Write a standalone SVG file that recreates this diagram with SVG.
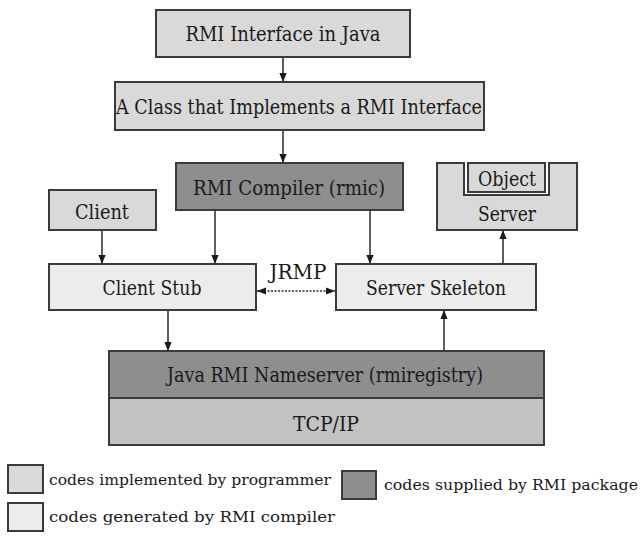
<svg xmlns="http://www.w3.org/2000/svg" width="641" height="540" viewBox="0 0 641 540">
  <style>
    .box { stroke: #3a3a3a; stroke-width: 2; }
    .impl { fill: #d9d9d9; }
    .gen { fill: #ececec; }
    .lib { fill: #8e8e8e; }
    .net { fill: #c2c2c2; }
    .lbl { font-family: 'DejaVu Serif Condensed', 'DejaVu Serif', serif; font-size: 21px; fill: #1a1a1a; text-anchor: middle; }
    .leg { font-family: 'DejaVu Serif', serif; font-size: 15px; fill: #1a1a1a; }
    .wire { stroke: #2a2a2a; stroke-width: 1.5; fill: none; }
    .dot { stroke: #2a2a2a; stroke-width: 1.5; fill: none; stroke-dasharray: 2 1.5; }
  </style>
  <defs>
    <marker id="headL" viewBox="0 0 10 10" refX="10" refY="5" markerWidth="9" markerHeight="9" markerUnits="userSpaceOnUse" orient="auto-start-reverse">
      <path d="M0,1 L10,5 L0,9 Z" fill="#1a1a1a"/>
    </marker>
  </defs>
  <rect width="641" height="540" fill="#ffffff"/>

  <g id="connectors">
    <line class="wire" x1="283" y1="57" x2="283" y2="82" marker-end="url(#headL)"/>
    <line class="wire" x1="283" y1="130" x2="283" y2="163" marker-end="url(#headL)"/>
    <line class="wire" x1="102" y1="230" x2="102" y2="264" marker-end="url(#headL)"/>
    <line class="wire" x1="215" y1="210" x2="215" y2="264" marker-end="url(#headL)"/>
    <line class="wire" x1="370" y1="210" x2="370" y2="264" marker-end="url(#headL)"/>
    <line class="wire" x1="503" y1="264" x2="503" y2="230" marker-end="url(#headL)"/>
    <line class="wire" x1="168" y1="310" x2="168" y2="351" marker-end="url(#headL)"/>
    <line class="wire" x1="444" y1="351" x2="444" y2="310" marker-end="url(#headL)"/>
    <line class="dot" x1="257" y1="291" x2="335" y2="291" marker-start="url(#headL)" marker-end="url(#headL)"/>
    <text class="lbl" x="298" y="279" font-size="19" textLength="57" lengthAdjust="spacingAndGlyphs">JRMP</text>
  </g>

  <g id="rmi-interface">
    <rect class="box impl" x="156" y="10" width="254" height="47"/>
    <text class="lbl" x="283" y="41" textLength="195" lengthAdjust="spacingAndGlyphs">RMI Interface in Java</text>
  </g>

  <g id="impl-class">
    <rect class="box impl" x="115" y="82" width="369" height="48"/>
    <text class="lbl" x="299" y="114" textLength="366" lengthAdjust="spacingAndGlyphs">A Class that Implements a RMI Interface</text>
  </g>

  <g id="rmi-compiler">
    <rect class="box lib" x="176" y="163" width="227" height="47"/>
    <text class="lbl" x="289" y="195" textLength="192" lengthAdjust="spacingAndGlyphs">RMI Compiler (rmic)</text>
  </g>

  <g id="client">
    <rect class="box impl" x="49" y="190" width="107" height="40"/>
    <text class="lbl" x="102" y="219" textLength="54" lengthAdjust="spacingAndGlyphs">Client</text>
  </g>

  <g id="server">
    <polygon class="box impl" points="437,163 464,163 464,195 549,195 549,163 577,163 577,230 437,230"/>
    <rect class="box impl" x="468" y="163" width="77" height="29"/>
    <text class="lbl" x="507" y="186" font-size="19" textLength="58" lengthAdjust="spacingAndGlyphs">Object</text>
    <text class="lbl" x="507" y="221" font-size="19" textLength="58" lengthAdjust="spacingAndGlyphs">Server</text>
  </g>

  <g id="client-stub">
    <rect class="box gen" x="49" y="264" width="207" height="46"/>
    <text class="lbl" x="152" y="295" textLength="99" lengthAdjust="spacingAndGlyphs">Client Stub</text>
  </g>

  <g id="server-skeleton">
    <rect class="box gen" x="336" y="264" width="200" height="46"/>
    <text class="lbl" x="436" y="295" textLength="140" lengthAdjust="spacingAndGlyphs">Server Skeleton</text>
  </g>

  <g id="nameserver">
    <rect class="box lib" x="109" y="351" width="435" height="47"/>
    <text class="lbl" x="325" y="382" textLength="316" lengthAdjust="spacingAndGlyphs">Java RMI Nameserver (rmiregistry)</text>
  </g>

  <g id="tcp-ip">
    <rect class="box net" x="109" y="398" width="435" height="47"/>
    <text class="lbl" x="326" y="431" textLength="66" lengthAdjust="spacingAndGlyphs">TCP/IP</text>
  </g>

  <g id="legend">
    <rect class="box impl" x="8" y="465" width="35" height="28"/>
    <text class="leg" x="49" y="485" textLength="282" lengthAdjust="spacingAndGlyphs">codes implemented by programmer</text>
    <rect class="box lib" x="342" y="471" width="34" height="28"/>
    <text class="leg" x="384" y="490" textLength="254" lengthAdjust="spacingAndGlyphs">codes supplied by RMI package</text>
    <rect class="box gen" x="8" y="503" width="35" height="28"/>
    <text class="leg" x="49" y="522" textLength="286" lengthAdjust="spacingAndGlyphs">codes generated by RMI compiler</text>
  </g>
</svg>
